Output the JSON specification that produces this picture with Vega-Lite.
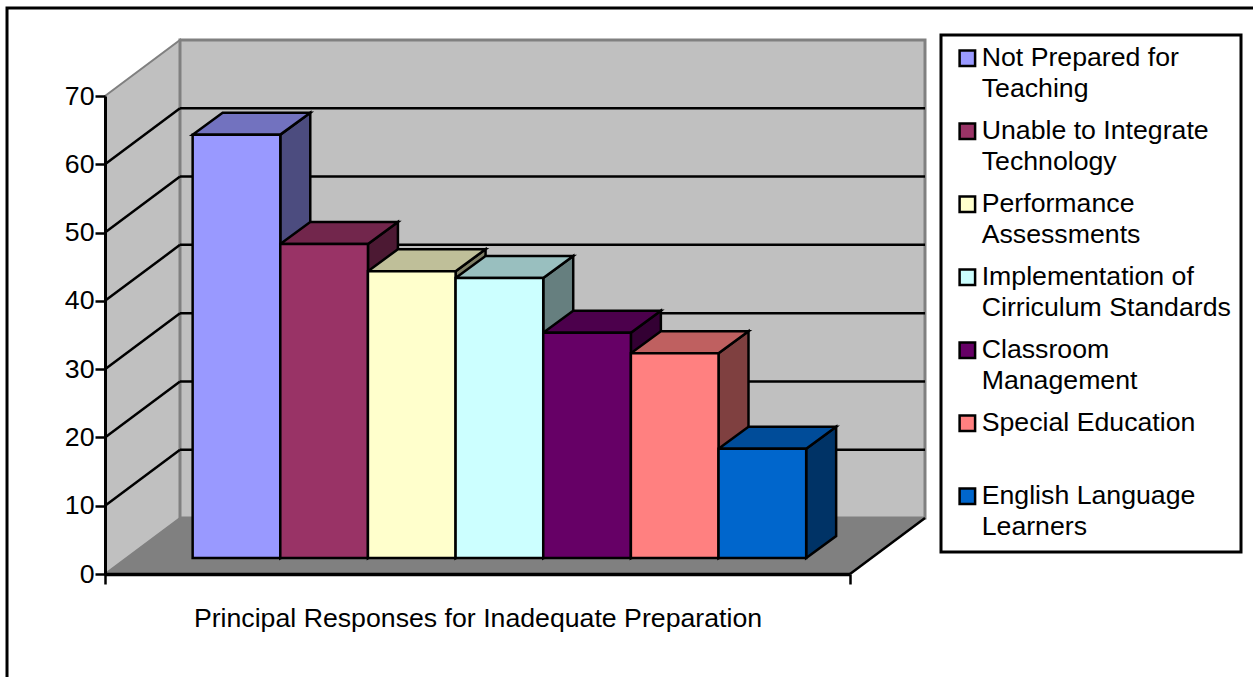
{"$schema":"https://vega.github.io/schema/vega-lite/v6.json","width":745,"height":478,"autosize":"none","padding":{"left":105,"top":96,"right":403,"bottom":103},"background":"white","config":{"view":{"stroke":null},"font":"Liberation Sans"},
"datasets":{"bars":[{"reason":"Not Prepared for Teaching","value":62},{"reason":"Unable to Integrate Technology","value":46},{"reason":"Performance Assessments","value":42},{"reason":"Implementation of Cirriculum Standards","value":41},{"reason":"Classroom Management","value":33},{"reason":"Special Education","value":30},{"reason":"English Language Learners","value":16}],"ticks":[{"tick":10},{"tick":20},{"tick":30},{"tick":40},{"tick":50},{"tick":60}],"depth":[{"d":0},{"d":1}],"one":[{"d":0}]},
"layer":[
{"data":{"name":"depth"},"transform":[{"calculate":"datum.d*0.856","as":"wx"},{"calculate":"datum.d*8.2","as":"wy0"},{"calculate":"datum.wy0+70","as":"wy1"}],
"mark":{"type":"area","fill":"#C0C0C0","stroke":"#808080","strokeWidth":2,"clip":false},
"encoding":{"x":{"field":"wx","type":"quantitative","scale":{"domain":[0,8.5],"nice":false,"zero":false},"axis":{"title":"Principal Responses for Inadequate Preparation","values":[0,8.5],"labels":false,"grid":false,"tickSize":10,"tickWidth":2.5,"tickColor":"black","domainColor":"black","domainWidth":3.5,"titleFont":"Liberation Sans","titleFontSize":26.7,"titleFontWeight":"normal","titleColor":"black","titlePadding":20,"zindex":1}},
"y":{"field":"wy1","type":"quantitative","stack":null,"scale":{"domain":[0,70],"nice":false,"zero":false},"axis":{"title":null,"values":[0,10,20,30,40,50,60,70],"grid":false,"tickSize":10,"tickWidth":2.5,"tickColor":"black","domainColor":"black","domainWidth":3,"labelFont":"Liberation Sans","labelFontSize":26.7,"labelColor":"black","labelPadding":1,"zindex":1}},
"y2":{"field":"wy0"}}},
{"data":{"name":"one"},"mark":{"type":"rect","fill":"#C0C0C0","stroke":"#808080","strokeWidth":3,"xOffset":75,"x2Offset":75,"yOffset":-56,"y2Offset":-56},"encoding":{"x":{"datum":0,"type":"quantitative"},"x2":{"datum":8.5},"y":{"datum":0,"type":"quantitative"},"y2":{"datum":70}}},
{"data":{"name":"depth"},"transform":[{"calculate":"datum.d*0.856","as":"fx"},{"calculate":"datum.fx+8.5","as":"fx2"},{"calculate":"datum.d*8.2","as":"fy"}],
"mark":{"type":"area","orient":"horizontal","fill":"#808080"},"encoding":{"y":{"field":"fy","type":"quantitative","stack":null},"x":{"field":"fx","type":"quantitative"},"x2":{"field":"fx2"}}},
{"data":{"name":"ticks"},"transform":[{"calculate":"datum.tick+8.2","as":"back"}],"mark":{"type":"rule","color":"black","strokeWidth":2.5},"encoding":{"x":{"datum":0,"type":"quantitative"},"x2":{"datum":0.856},"y":{"field":"tick","type":"quantitative"},"y2":{"field":"back"}}},
{"data":{"name":"ticks"},"transform":[{"calculate":"datum.tick+8.2","as":"back"}],"mark":{"type":"rule","color":"black","strokeWidth":2.5},"encoding":{"x":{"datum":0.856,"type":"quantitative"},"x2":{"datum":9.356},"y":{"field":"back","type":"quantitative"}}},
{"data":{"name":"one"},"mark":{"type":"rule","color":"black","strokeWidth":2.5},"encoding":{"x":{"datum":8.5,"type":"quantitative"},"x2":{"datum":9.356},"y":{"datum":0,"type":"quantitative"},"y2":{"datum":8.2}}},
{"data":{"name":"bars"},"transform":[{"window":[{"op":"row_number","as":"n"}]},{"calculate":"[0,1]","as":"d"},{"flatten":["d"]},{"calculate":"datum.n+1+datum.d*0.342","as":"sx"},{"calculate":"datum.value+datum.d*3.22","as":"sy"},{"calculate":"datum.d*3.22","as":"sy0"},{"calculate":"datum.n+datum.d*0.342","as":"tx"},{"calculate":"datum.tx+1","as":"tx2"}],
"layer":[
{"mark":{"type":"area","yOffset":-16,"y2Offset":-16},"encoding":{"detail":{"field":"reason"},"x":{"field":"sx","type":"quantitative"},"y":{"field":"sy","type":"quantitative","stack":null},"y2":{"field":"sy0"},"color":{"field":"reason","type":"nominal"}}},
{"mark":{"type":"area","yOffset":-16,"y2Offset":-16,"fill":"black","fillOpacity":0.5,"stroke":"black","strokeWidth":2.5},"encoding":{"detail":{"field":"reason"},"x":{"field":"sx","type":"quantitative"},"y":{"field":"sy","type":"quantitative","stack":null},"y2":{"field":"sy0"}}},
{"mark":{"type":"area","orient":"horizontal","yOffset":-16},"encoding":{"detail":{"field":"reason"},"y":{"field":"sy","type":"quantitative","stack":null},"x":{"field":"tx","type":"quantitative"},"x2":{"field":"tx2"},"color":{"field":"reason","type":"nominal"}}},
{"mark":{"type":"area","orient":"horizontal","yOffset":-16,"fill":"black","fillOpacity":0.25,"stroke":"black","strokeWidth":2.5},"encoding":{"detail":{"field":"reason"},"y":{"field":"sy","type":"quantitative","stack":null},"x":{"field":"tx","type":"quantitative"},"x2":{"field":"tx2"}}}
]},
{"data":{"name":"bars"},"transform":[{"window":[{"op":"row_number","as":"n"}]},{"calculate":"datum.n+1","as":"n2"}],
"mark":{"type":"rect","stroke":"black","strokeWidth":2.5,"yOffset":-16,"y2Offset":-16},
"encoding":{"x":{"field":"n","type":"quantitative"},"x2":{"field":"n2"},"y":{"field":"value","type":"quantitative"},"y2":{"datum":0},
"color":{"field":"reason","type":"nominal","scale":{"domain":["Not Prepared for Teaching","Unable to Integrate Technology","Performance Assessments","Implementation of Cirriculum Standards","Classroom Management","Special Education","English Language Learners"],"range":["#9999FF","#993366","#FFFFCC","#CCFFFF","#660066","#FF8080","#0066CC"]},
"legend":{"orient":"none","legendX":836,"legendY":-61,"title":null,"symbolType":"square","symbolSize":240,"symbolOffset":3,"symbolStrokeColor":"black","symbolStrokeWidth":2.5,"labelFont":"Liberation Sans","labelFontSize":26.7,"labelColor":"black","labelOffset":1,"labelLimit":400,"rowPadding":14,"padding":10,"fillColor":"white","strokeColor":"black","labelExpr":"{'Not Prepared for Teaching':['Not Prepared for','Teaching'],'Unable to Integrate Technology':['Unable to Integrate','Technology'],'Performance Assessments':['Performance','Assessments'],'Implementation of Cirriculum Standards':['Implementation of','Cirriculum Standards'],'Classroom Management':['Classroom','Management'],'Special Education':['Special Education',' '],'English Language Learners':['English Language','Learners']}[datum.label]","encoding":{"legend":{"strokeWidth":{"value":3}},"labels":{"lineHeight":{"value":31}}}}}}},
{"data":{"name":"one"},"mark":{"type":"rect","fill":null,"stroke":"black","strokeWidth":3},"encoding":{"x":{"datum":-1.118,"type":"quantitative"},"x2":{"datum":16},"y":{"datum":82.9,"type":"quantitative"},"y2":{"datum":-20}}}
]}
